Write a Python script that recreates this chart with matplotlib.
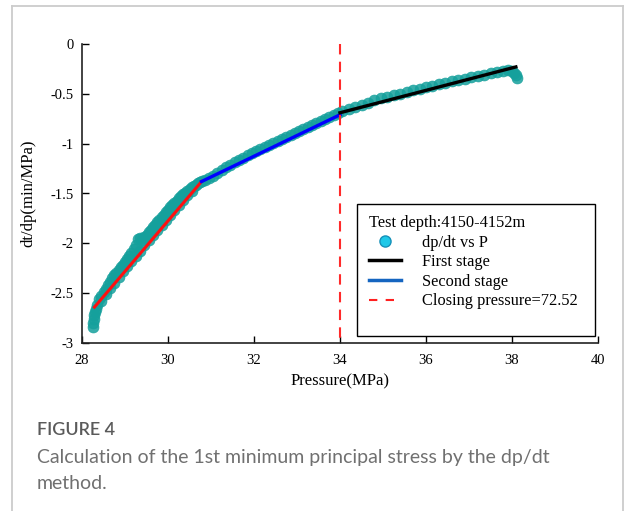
import matplotlib
matplotlib.use("Agg")
from matplotlib import pyplot as plt
from matplotlib.lines import Line2D
from matplotlib.patches import Rectangle

plt.rcParams['font.family'] = ['Liberation Serif', 'DejaVu Serif']
plt.rcParams['axes.unicode_minus'] = False

# measured points: dp/dt vs P (upper and lower edge of the noisy band)
pressure = [28.25, 28.26, 28.27, 28.28, 28.30, 28.33, 28.36, 28.40, 28.45, 28.50,
            28.55, 28.60, 28.65, 28.70, 28.75, 28.80, 28.85, 28.90, 28.95, 29.00,
            29.05, 29.10, 29.15, 29.20, 29.25, 29.30, 29.35, 29.40, 29.45, 29.50,
            29.55, 29.60, 29.65, 29.70, 29.75, 29.80, 29.85, 29.90, 29.95, 30.00,
            30.05, 30.10, 30.15, 30.20, 30.25, 30.30, 30.35, 30.40, 30.45, 30.50,
            30.55, 30.60, 30.65, 30.70, 30.75, 30.80,
            28.45, 28.55, 28.65, 28.75, 28.85, 28.95, 29.05, 29.15, 29.25, 29.35,
            29.45, 29.55, 29.65, 29.75, 29.85, 29.95, 30.05, 30.15, 30.25, 30.35,
            30.45, 30.55,
            30.85, 30.95, 31.05, 31.15,
            31.25, 31.35, 31.45, 31.55, 31.65, 31.75, 31.85, 31.95, 32.05, 32.15,
            32.25, 32.35, 32.45, 32.55, 32.65, 32.75, 32.85, 32.95, 33.05, 33.15,
            33.25, 33.35, 33.45, 33.55, 33.65, 33.75, 33.85, 33.95, 34.05, 34.20,
            34.35, 34.50, 34.65, 34.80, 34.95, 35.10, 35.25, 35.40, 35.55, 35.70,
            35.85, 36.00, 36.15, 36.30, 36.45, 36.60, 36.75, 36.90, 37.05, 37.20,
            37.35, 37.50, 37.65, 37.80, 37.90, 38.00, 38.05, 38.10, 38.12]
dtdp = [-2.84, -2.80, -2.76, -2.72, -2.69, -2.66, -2.62, -2.56, -2.53, -2.49,
        -2.46, -2.42, -2.39, -2.35, -2.32, -2.30, -2.27, -2.24, -2.22, -2.19,
        -2.16, -2.13, -2.10, -2.06, -2.02, -1.96, -1.95, -1.97, -1.94, -1.92,
        -1.89, -1.87, -1.84, -1.82, -1.79, -1.77, -1.74, -1.72, -1.69, -1.67,
        -1.64, -1.62, -1.60, -1.58, -1.55, -1.53, -1.51, -1.49, -1.47, -1.45,
        -1.43, -1.42, -1.41, -1.39, -1.38, -1.37,
        -2.58, -2.51, -2.45, -2.40, -2.34, -2.28, -2.23, -2.18, -2.13, -2.08,
        -2.02, -1.97, -1.92, -1.87, -1.82, -1.77, -1.72, -1.67, -1.62, -1.57,
        -1.52, -1.47,
        -1.36, -1.34, -1.32, -1.29,
        -1.26, -1.23, -1.21, -1.18, -1.16, -1.14, -1.11, -1.09, -1.07, -1.05,
        -1.03, -1.01, -0.99, -0.97, -0.95, -0.93, -0.91, -0.89, -0.87, -0.85,
        -0.83, -0.81, -0.79, -0.77, -0.75, -0.73, -0.71, -0.69, -0.67, -0.65,
        -0.63, -0.61, -0.59, -0.565, -0.545, -0.53, -0.515, -0.50, -0.48, -0.465,
        -0.45, -0.435, -0.42, -0.405, -0.39, -0.375, -0.36, -0.35, -0.335, -0.32,
        -0.31, -0.295, -0.285, -0.27, -0.26, -0.27, -0.29, -0.31, -0.34]

# fitted stages (end points)
first_p = [34.0, 38.09]
first_y = [-0.69, -0.23]
second_p = [30.78, 34.0]
second_y = [-1.38, -0.71]
early_p = [28.29, 30.78]
early_y = [-2.64, -1.38]
closing_p = 34.0

x_ticks = [28, 30, 32, 34, 36, 38, 40]
y_ticks = [0, -0.5, -1, -1.5, -2, -2.5, -3]
y_tick_labels = ['0', '-0.5', '-1', '-1.5', '-2', '-2.5', '-3']

fig = plt.figure(figsize=(6.25, 5.11), dpi=100)
ax = fig.add_axes([82/625, 1 - 343/511, 516/625, 299/511])

ax.scatter(pressure, dtdp, s=62, color='#15a09c', edgecolors='#15a09c',
           linewidths=0.5, alpha=0.85, zorder=2)
ax.plot(early_p, early_y, color='#ff1010', lw=2.2, zorder=3)
ax.plot(second_p, second_y, color='#0000ff', lw=2.4, zorder=3)
ax.plot(first_p, first_y, color='black', lw=2.4, zorder=3)
ax.plot([closing_p, closing_p], [0, -3], color='#ff2a2a', lw=1.5,
        dashes=(5, 3.5), zorder=4)

ax.set_xlim(28, 40)
ax.set_ylim(-3, 0)
ax.set_xticks(x_ticks)
ax.set_yticks(y_ticks)
ax.set_yticklabels(y_tick_labels)
ax.tick_params(direction='in', length=5, width=1, labelsize=10.5, pad=6)
ax.tick_params(axis='x', pad=8)
for side in ['top', 'right']:
    ax.spines[side].set_visible(False)
for side in ['left', 'bottom']:
    ax.spines[side].set_linewidth(1.2)
    ax.spines[side].set_color('#222222')

ax.set_xlabel('Pressure(MPa)', fontsize=12)
ax.set_ylabel('dt/dp(min/MPa)', fontsize=12)
ax.xaxis.set_label_coords(0.5, -0.10)
ax.yaxis.set_label_coords(-0.088, 0.5)

# legend box
ax.add_patch(Rectangle((0.533, 0.023), 0.461, 0.442, transform=ax.transAxes,
                       fill=True, facecolor='white', edgecolor='black',
                       lw=1.0, zorder=5))
handles = [
    Line2D([], [], ls='none', marker='o', markersize=8, markerfacecolor='#1ec8e8',
           markeredgecolor='#1590b8', markeredgewidth=1),
    Line2D([], [], color='black', lw=2.5),
    Line2D([], [], color='#1565c0', lw=2.5),
    Line2D([], [], color='#ff2020', lw=1.5, dashes=(4, 4)),
]
labels = ['dp/dt vs P', 'First stage', 'Second stage', 'Closing pressure=72.52']
leg = ax.legend(handles, labels, title='Test depth:4150-4152m', loc='upper left',
                bbox_to_anchor=((369 - 82)/516, (343 - 215)/299), frameon=False,
                fontsize=11.8, title_fontsize=11.8, borderpad=0, borderaxespad=0,
                handlelength=1.95, handletextpad=1.3, labelspacing=0.22,
                alignment='left')
leg.set_zorder(6)

# card border and caption
border = '#cccccc'
fig.add_artist(Line2D([12/625, 12/625], [0, 1 - 6/511], color=border, lw=1.3))
fig.add_artist(Line2D([623/625, 623/625], [0, 1 - 6/511], color=border, lw=1.3))
fig.add_artist(Line2D([12/625, 623/625], [1 - 6/511, 1 - 6/511], color=border, lw=1.3))

fig.text(37/625, 1 - 430/511, 'FIGURE 4', family=['Lato', 'DejaVu Sans'],
         fontsize=13, fontweight='semibold', color='#5a5a5a', va='center')
fig.text(37/625, 1 - 457/511,
         'Calculation of the 1st minimum principal stress by the dp/dt',
         family=['Lato', 'DejaVu Sans'], fontsize=14, color='#707070', va='center')
fig.text(37/625, 1 - 483/511, 'method.', family=['Lato', 'DejaVu Sans'],
         fontsize=14, color='#707070', va='center')

fig.savefig('out.png', dpi=100)
